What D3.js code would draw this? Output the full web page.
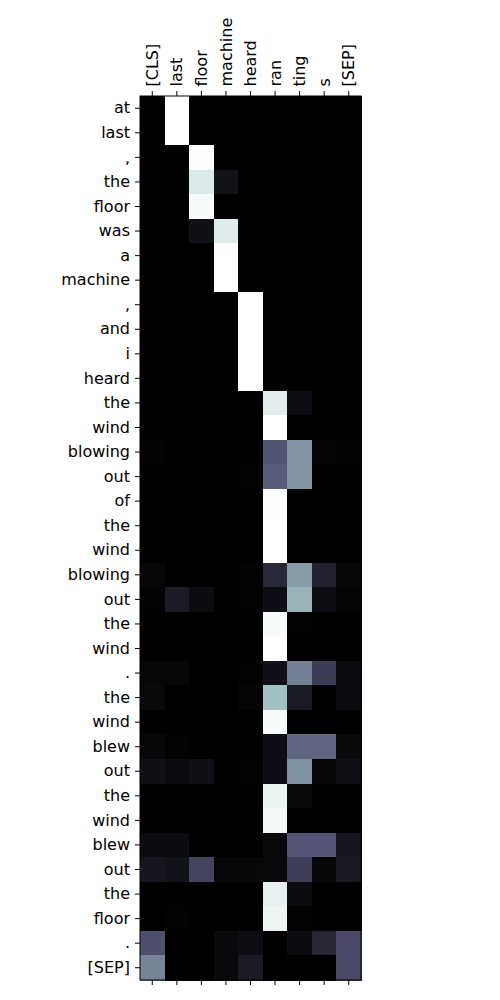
<!DOCTYPE html>
<html><head><meta charset="utf-8">
<script src="https://cdn.jsdelivr.net/npm/d3@7"></script>
<style>body{margin:0;background:#fff}svg{display:block}text{font-family:"DejaVu Sans",sans-serif}</style>
</head><body><svg id="c" width="500" height="1000"></svg>
<script>
const cols = ["[CLS]","last","floor","machine","heard","ran","ting","s","[SEP]"];
const rows = ["at","last",",","the","floor","was","a","machine",",","and","i","heard","the","wind","blowing","out","of","the","wind","blowing","out","the","wind",".","the","wind","blew","out","the","wind","blew","out","the","floor",".","[SEP]"];
const values = [
[0,1,0,0,0,0,0,0,0],
[0,1,0,0,0,0,0,0,0],
[0,0,0.99,0,0,0,0,0,0],
[0,0,0.9,0.08,0,0,0,0,0],
[0,0,0.98,0,0,0,0,0,0],
[0,0,0.07,0.91,0,0,0,0,0],
[0,0,0,1,0,0,0,0,0],
[0,0,0,1,0,0,0,0,0],
[0,0,0,0,1,0,0,0,0],
[0,0,0,0,1,0,0,0,0],
[0,0,0,0,1,0,0,0,0],
[0,0,0,0,1,0,0,0,0],
[0,0,0,0,0,0.92,0.06,0,0],
[0,0,0,0,0,1,0,0,0],
[0.01,0,0,0,0,0.37,0.58,0.02,0.01],
[0,0,0,0,0.01,0.4,0.58,0,0],
[0,0,0,0,0,0.99,0,0,0],
[0,0,0,0,0,1,0,0,0],
[0,0,0,0,0,1,0,0,0],
[0.03,0,0,0,0.01,0.18,0.61,0.15,0.03],
[0.01,0.12,0.05,0,0.01,0.06,0.68,0.06,0.02],
[0,0,0,0,0,0.98,0.01,0,0],
[0,0,0,0,0,1,0,0,0],
[0.03,0.03,0,0,0.01,0.07,0.52,0.27,0.05],
[0.04,0,0,0,0.02,0.73,0.12,0,0.05],
[0,0,0,0,0,0.98,0,0,0],
[0.03,0.01,0,0,0,0.06,0.43,0.43,0.04],
[0.07,0.05,0.07,0,0.01,0.06,0.57,0.03,0.07],
[0,0,0,0,0,0.94,0.04,0,0],
[0,0,0,0,0,0.97,0,0,0],
[0.05,0.05,0,0,0,0.04,0.38,0.38,0.1],
[0.1,0.08,0.3,0.03,0.03,0.04,0.28,0.03,0.11],
[0,0,0,0,0,0.93,0.05,0,0],
[0,0.01,0,0,0,0.95,0.01,0,0],
[0.35,0,0,0.04,0.06,0,0.05,0.17,0.33],
[0.53,0,0,0.04,0.12,0,0,0,0.33]
];

// matplotlib "bone" colormap
const boneR = d3.scaleLinear().domain([0,0.746032,1]).range([0,0.652778,1]).clamp(true);
const boneG = d3.scaleLinear().domain([0,0.365079,0.746032,1]).range([0,0.319444,0.777778,1]).clamp(true);
const boneB = d3.scaleLinear().domain([0,0.365079,1]).range([0,0.444444,1]).clamp(true);
const bone = v => d3.rgb(boneR(v)*255, boneG(v)*255, boneB(v)*255).toString();

const svg = d3.select("#c");
const L = 140, R = 361, T = 96, B = 980;
const x = d3.scaleBand().domain(d3.range(cols.length)).range([L,R]);
const y = d3.scaleBand().domain(d3.range(rows.length)).range([T,B]);
const color = d3.scaleLinear().domain([0,1]).range([0,1]);

const g = svg.append("g").attr("shape-rendering","crispEdges");
values.forEach((row,i)=>row.forEach((v,j)=>{
  g.append("rect").attr("x",x(j)).attr("y",y(i))
   .attr("width",x.bandwidth()+0.6).attr("height",y.bandwidth()+0.6)
   .attr("fill",bone(color(v)));
}));

const fs = "16px";
const axTop = svg.append("g").attr("transform",`translate(0,${T})`)
  .call(d3.axisTop(x).tickSize(5).tickPadding(4).tickFormat(i=>cols[i]));
axTop.selectAll("text").attr("transform","rotate(-90)").attr("text-anchor","start")
  .attr("x",9.5).attr("y",0).attr("dy","0.35em").style("font-size",fs).attr("fill","#000");
const axBot = svg.append("g").attr("transform",`translate(0,${B})`)
  .call(d3.axisBottom(x).tickSize(5).tickFormat(""));
const axLeft = svg.append("g").attr("transform",`translate(${L},0)`)
  .call(d3.axisLeft(y).tickSize(5).tickPadding(5).tickFormat(i=>rows[i]));
axLeft.selectAll("text").style("font-size",fs).attr("fill","#000");
[axTop,axBot,axLeft].forEach(a=>{a.select(".domain").remove();a.selectAll("line").attr("stroke","#000").attr("stroke-width",1);});
svg.append("rect").attr("x",L).attr("y",T).attr("width",R-L).attr("height",B-T)
  .attr("fill","none").attr("stroke","#000").attr("stroke-width",1);
</script></body></html>
